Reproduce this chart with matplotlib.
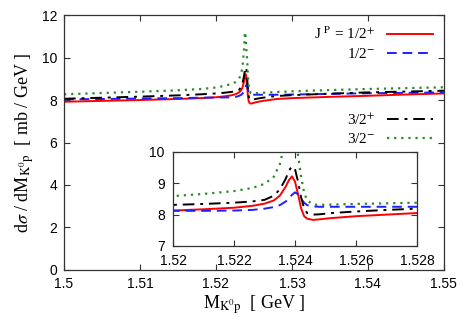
import matplotlib
matplotlib.use("Agg")
import matplotlib.pyplot as plt

# --------------------------
# Data
# --------------------------
mass = [1.500, 1.505, 1.510, 1.515, 1.518, 1.520, 1.521, 1.522, 1.5226, 1.5230,
        1.5233, 1.5235, 1.5237, 1.5238, 1.5239, 1.5240, 1.5241, 1.5242, 1.5243,
        1.5244, 1.5246, 1.5248, 1.5252, 1.526, 1.527, 1.528, 1.530, 1.535,
        1.540, 1.545, 1.550]

half_plus = [7.92, 7.96, 8.00, 8.05, 8.09, 8.13, 8.17, 8.22, 8.28, 8.35,
             8.45, 8.60, 8.90, 9.10, 9.22, 9.05, 8.65, 8.20, 7.95,
             7.87, 7.83, 7.85, 7.89, 7.95, 8.00, 8.05, 8.09, 8.15,
             8.20, 8.26, 8.31]

half_minus = [8.03, 8.05, 8.07, 8.09, 8.11, 8.12, 8.12, 8.13, 8.15, 8.19,
              8.24, 8.30, 8.42, 8.52, 8.63, 8.71, 8.65, 8.50, 8.38,
              8.30, 8.26, 8.25, 8.25, 8.25, 8.25, 8.25, 8.26, 8.29,
              8.32, 8.34, 8.36]

three_half_plus = [8.06, 8.11, 8.16, 8.22, 8.27, 8.31, 8.34, 8.38, 8.42, 8.47,
                   8.60, 8.80, 9.15, 9.40, 9.54, 9.45, 9.05, 8.55, 8.20,
                   8.05, 8.00, 8.01, 8.05, 8.10, 8.15, 8.19, 8.23, 8.30,
                   8.36, 8.40, 8.44]

three_half_minus = [8.27, 8.33, 8.39, 8.46, 8.52, 8.59, 8.66, 8.75, 8.85, 8.98,
                    9.20, 9.60, 10.40, 11.20, 11.00, 10.40, 9.90, 9.20, 8.70,
                    8.45, 8.32, 8.31, 8.32, 8.34, 8.36, 8.38, 8.41, 8.47,
                    8.52, 8.56, 8.60]

main_xticks = [1.50, 1.51, 1.52, 1.53, 1.54, 1.55]
main_xlabels = ["1.5", "1.51", "1.52", "1.53", "1.54", "1.55"]
main_yticks = [0, 2, 4, 6, 8, 10, 12]
inset_xticks = [1.520, 1.522, 1.524, 1.526, 1.528]
inset_xlabels = ["1.52", "1.522", "1.524", "1.526", "1.528"]
inset_yticks = [7, 8, 9, 10]

# --------------------------
# Styles
# --------------------------
SERIF = ["Liberation Serif", "DejaVu Serif"]
SANS = ["Liberation Sans", "DejaVu Sans"]
plt.rcParams["mathtext.fontset"] = "stix"
plt.rcParams["font.family"] = SANS

curves = [
    (half_plus, dict(color="#ff0000", ls="-", lw=1.4)),
    (half_minus, dict(color="#1f1fff", ls=(0, (5, 3)), lw=1.4)),
    (three_half_plus, dict(color="black", ls=(0, (6, 3, 1.5, 3)), lw=1.4)),
    (three_half_minus, dict(color="#2a8a2a", ls=(0, (1, 2.2)), lw=1.6)),
]


def style_axes(ax):
    for sp in ax.spines.values():
        sp.set_color("#333333")
        sp.set_linewidth(0.9)
    ax.tick_params(direction="in", top=True, right=True, length=4,
                   width=0.8, color="#333333", labelsize=10, pad=5)


fig = plt.figure(figsize=(4.69, 3.28), dpi=100)

# main panel
ax = fig.add_axes([0.1365, 0.177, 0.810, 0.777])
lines = []
for vals, kw in curves:
    ln, = ax.plot(mass, vals, **kw)
    lines.append(ln)
ax.set_xlim(1.5, 1.55)
ax.set_ylim(0, 12)
ax.set_xticks(main_xticks)
ax.set_xticklabels(main_xlabels)
ax.set_yticks(main_yticks)
style_axes(ax)
ax.set_xlabel(r"M$_{\mathrm{K^0p}}$  [ GeV ]", fontsize=13, family=SERIF, labelpad=2)
ax.set_ylabel(r"d$\sigma$ / dM$_{\mathrm{K^0p}}$  [ mb / GeV ]", fontsize=13,
              family=SERIF, labelpad=4)

leg1 = ax.legend(lines[:2], [r"J $^{\mathrm{P}}$ = 1/2$^{+}$", r"1/2$^{-}$"],
                 loc="upper right", frameon=False, prop={"family": SERIF, "size": 11},
                 handlelength=3.0, markerfirst=False, borderaxespad=0.3,
                 labelspacing=0.3)
ax.add_artist(leg1)
ax.legend(lines[2:], [r"3/2$^{+}$", r"3/2$^{-}$"],
          loc="upper right", bbox_to_anchor=(1.0, 0.66), frameon=False,
          prop={"family": SERIF, "size": 11}, handlelength=3.0,
          markerfirst=False, borderaxespad=0.3, labelspacing=0.3)

# inset
axi = fig.add_axes([0.369, 0.25, 0.520, 0.287])
for vals, kw in curves:
    axi.plot(mass, vals, **kw)
axi.set_xlim(1.52, 1.528)
axi.set_ylim(7, 10)
axi.set_xticks(inset_xticks)
axi.set_xticklabels(inset_xlabels)
axi.set_yticks(inset_yticks)
style_axes(axi)
axi.tick_params(axis="x", pad=6)
axi.tick_params(axis="y", pad=6)

fig.savefig("out.png", dpi=100)
